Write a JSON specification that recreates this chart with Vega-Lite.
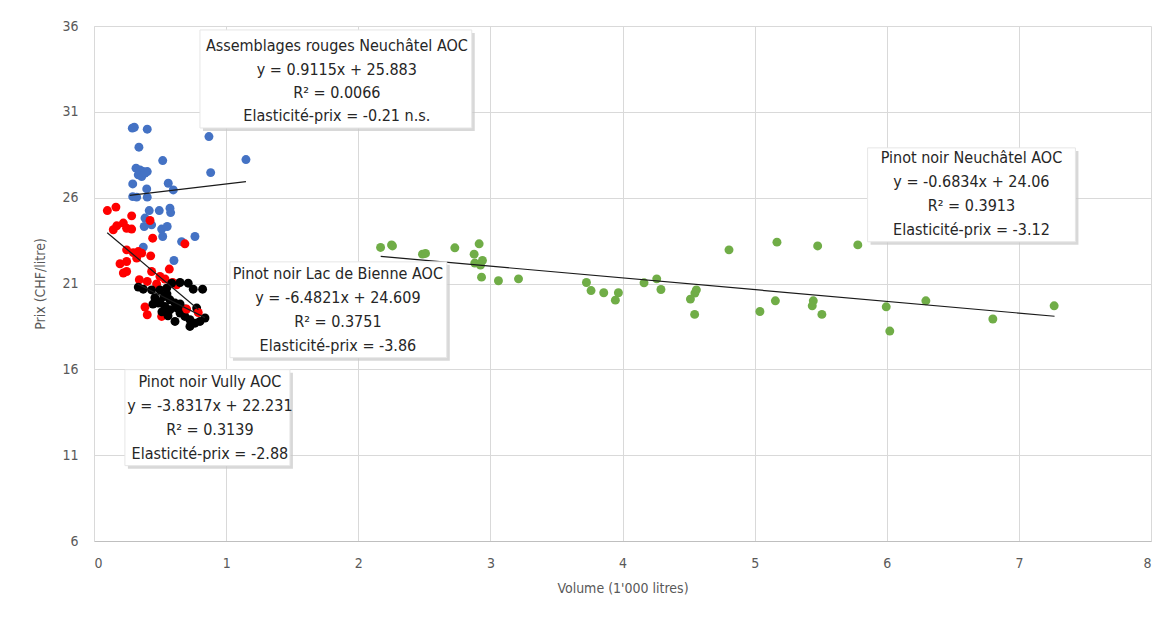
{
  "$schema": "https://vega.github.io/schema/vega-lite/v6.json",
  "autosize": "none",
  "width": 1057,
  "height": 515,
  "padding": {"left": 94, "top": 26, "right": 18, "bottom": 87},
  "background": "white",
  "config": {
    "view": {"stroke": null},
    "font": "Liberation Sans Narrow, DejaVu Sans Condensed, sans-serif"
  },
  "datasets": {
    "pts": [
      {"s": "Assemblages", "x": 0.290, "y": 30.05}, {"s": "Assemblages", "x": 0.305, "y": 30.10},
      {"s": "Assemblages", "x": 0.403, "y": 29.99}, {"s": "Assemblages", "x": 0.870, "y": 29.56},
      {"s": "Assemblages", "x": 0.340, "y": 28.94}, {"s": "Assemblages", "x": 0.520, "y": 28.16},
      {"s": "Assemblages", "x": 1.150, "y": 28.22}, {"s": "Assemblages", "x": 0.883, "y": 27.46},
      {"s": "Assemblages", "x": 0.318, "y": 27.72}, {"s": "Assemblages", "x": 0.348, "y": 27.62},
      {"s": "Assemblages", "x": 0.373, "y": 27.52}, {"s": "Assemblages", "x": 0.403, "y": 27.52},
      {"s": "Assemblages", "x": 0.335, "y": 27.33}, {"s": "Assemblages", "x": 0.361, "y": 27.23},
      {"s": "Assemblages", "x": 0.386, "y": 27.43}, {"s": "Assemblages", "x": 0.293, "y": 26.80},
      {"s": "Assemblages", "x": 0.399, "y": 26.51}, {"s": "Assemblages", "x": 0.562, "y": 26.84},
      {"s": "Assemblages", "x": 0.600, "y": 26.45}, {"s": "Assemblages", "x": 0.293, "y": 26.06},
      {"s": "Assemblages", "x": 0.323, "y": 26.03}, {"s": "Assemblages", "x": 0.403, "y": 26.03},
      {"s": "Assemblages", "x": 0.418, "y": 25.25}, {"s": "Assemblages", "x": 0.494, "y": 25.25},
      {"s": "Assemblages", "x": 0.575, "y": 25.39}, {"s": "Assemblages", "x": 0.580, "y": 25.13},
      {"s": "Assemblages", "x": 0.386, "y": 24.81}, {"s": "Assemblages", "x": 0.436, "y": 24.42},
      {"s": "Assemblages", "x": 0.512, "y": 24.17}, {"s": "Assemblages", "x": 0.554, "y": 24.32},
      {"s": "Assemblages", "x": 0.520, "y": 23.74}, {"s": "Assemblages", "x": 0.380, "y": 24.32},
      {"s": "Assemblages", "x": 0.663, "y": 23.44}, {"s": "Assemblages", "x": 0.764, "y": 23.74},
      {"s": "Assemblages", "x": 0.373, "y": 23.12}, {"s": "Assemblages", "x": 0.605, "y": 22.34},

      {"s": "Bienne", "x": 0.101, "y": 25.25}, {"s": "Bienne", "x": 0.166, "y": 25.45},
      {"s": "Bienne", "x": 0.285, "y": 24.94}, {"s": "Bienne", "x": 0.424, "y": 24.67},
      {"s": "Bienne", "x": 0.146, "y": 24.13}, {"s": "Bienne", "x": 0.172, "y": 24.36},
      {"s": "Bienne", "x": 0.222, "y": 24.52}, {"s": "Bienne", "x": 0.247, "y": 24.22},
      {"s": "Bienne", "x": 0.285, "y": 24.17}, {"s": "Bienne", "x": 0.444, "y": 23.64},
      {"s": "Bienne", "x": 0.688, "y": 23.31}, {"s": "Bienne", "x": 0.247, "y": 22.96},
      {"s": "Bienne", "x": 0.297, "y": 22.80}, {"s": "Bienne", "x": 0.335, "y": 22.86},
      {"s": "Bienne", "x": 0.361, "y": 22.77}, {"s": "Bienne", "x": 0.323, "y": 22.48},
      {"s": "Bienne", "x": 0.429, "y": 22.61}, {"s": "Bienne", "x": 0.197, "y": 22.15},
      {"s": "Bienne", "x": 0.247, "y": 22.28}, {"s": "Bienne", "x": 0.222, "y": 21.61},
      {"s": "Bienne", "x": 0.247, "y": 21.70}, {"s": "Bienne", "x": 0.436, "y": 21.70},
      {"s": "Bienne", "x": 0.570, "y": 21.84}, {"s": "Bienne", "x": 0.499, "y": 21.41},
      {"s": "Bienne", "x": 0.537, "y": 21.26}, {"s": "Bienne", "x": 0.343, "y": 21.22},
      {"s": "Bienne", "x": 0.403, "y": 21.12}, {"s": "Bienne", "x": 0.474, "y": 20.97},
      {"s": "Bienne", "x": 0.626, "y": 20.92}, {"s": "Bienne", "x": 0.595, "y": 21.06},
      {"s": "Bienne", "x": 0.386, "y": 19.63}, {"s": "Bienne", "x": 0.403, "y": 19.18},
      {"s": "Bienne", "x": 0.512, "y": 19.08},

      {"s": "Vully", "x": 0.335, "y": 20.79}, {"s": "Vully", "x": 0.373, "y": 20.67},
      {"s": "Vully", "x": 0.436, "y": 20.63}, {"s": "Vully", "x": 0.499, "y": 20.63},
      {"s": "Vully", "x": 0.550, "y": 20.73}, {"s": "Vully", "x": 0.588, "y": 21.02},
      {"s": "Vully", "x": 0.651, "y": 21.06}, {"s": "Vully", "x": 0.713, "y": 21.02},
      {"s": "Vully", "x": 0.751, "y": 20.67}, {"s": "Vully", "x": 0.822, "y": 20.67},
      {"s": "Vully", "x": 0.486, "y": 19.86}, {"s": "Vully", "x": 0.530, "y": 20.24},
      {"s": "Vully", "x": 0.575, "y": 20.05}, {"s": "Vully", "x": 0.613, "y": 19.86},
      {"s": "Vully", "x": 0.630, "y": 19.57}, {"s": "Vully", "x": 0.575, "y": 19.47},
      {"s": "Vully", "x": 0.537, "y": 19.66}, {"s": "Vully", "x": 0.651, "y": 19.28},
      {"s": "Vully", "x": 0.688, "y": 19.08}, {"s": "Vully", "x": 0.613, "y": 18.79},
      {"s": "Vully", "x": 0.726, "y": 18.89}, {"s": "Vully", "x": 0.802, "y": 18.79},
      {"s": "Vully", "x": 0.840, "y": 18.99}, {"s": "Vully", "x": 0.726, "y": 18.50},
      {"s": "Vully", "x": 0.764, "y": 18.69}, {"s": "Vully", "x": 0.777, "y": 19.57},
      {"s": "Vully", "x": 0.461, "y": 20.17}, {"s": "Vully", "x": 0.499, "y": 19.94},
      {"s": "Vully", "x": 0.552, "y": 20.40}, {"s": "Vully", "x": 0.446, "y": 19.80},
      {"s": "Vully", "x": 0.514, "y": 19.35}, {"s": "Vully", "x": 0.560, "y": 19.12},
      {"s": "Vully", "x": 0.651, "y": 19.81}, {"s": "Vully", "x": 0.688, "y": 19.52},

      {"s": "Bienne", "x": 0.701, "y": 19.51}, {"s": "Bienne", "x": 0.789, "y": 19.31},

      {"s": "Neuchatel", "x": 2.169, "y": 23.10}, {"s": "Neuchatel", "x": 2.252, "y": 23.25},
      {"s": "Neuchatel", "x": 2.259, "y": 23.19}, {"s": "Neuchatel", "x": 2.486, "y": 22.71},
      {"s": "Neuchatel", "x": 2.509, "y": 22.75}, {"s": "Neuchatel", "x": 2.731, "y": 23.08},
      {"s": "Neuchatel", "x": 2.915, "y": 23.31}, {"s": "Neuchatel", "x": 2.877, "y": 22.71},
      {"s": "Neuchatel", "x": 2.882, "y": 22.19}, {"s": "Neuchatel", "x": 2.940, "y": 22.34},
      {"s": "Neuchatel", "x": 2.925, "y": 22.07}, {"s": "Neuchatel", "x": 2.933, "y": 21.37},
      {"s": "Neuchatel", "x": 3.061, "y": 21.16}, {"s": "Neuchatel", "x": 3.213, "y": 21.27},
      {"s": "Neuchatel", "x": 3.727, "y": 21.06}, {"s": "Neuchatel", "x": 3.762, "y": 20.59},
      {"s": "Neuchatel", "x": 3.858, "y": 20.46}, {"s": "Neuchatel", "x": 3.969, "y": 20.46},
      {"s": "Neuchatel", "x": 3.946, "y": 20.03}, {"s": "Neuchatel", "x": 4.163, "y": 21.04},
      {"s": "Neuchatel", "x": 4.259, "y": 21.27}, {"s": "Neuchatel", "x": 4.291, "y": 20.65},
      {"s": "Neuchatel", "x": 4.559, "y": 20.63}, {"s": "Neuchatel", "x": 4.548, "y": 20.44},
      {"s": "Neuchatel", "x": 4.514, "y": 20.09}, {"s": "Neuchatel", "x": 4.546, "y": 19.20},
      {"s": "Neuchatel", "x": 4.806, "y": 22.96}, {"s": "Neuchatel", "x": 5.169, "y": 23.41},
      {"s": "Neuchatel", "x": 5.477, "y": 23.19}, {"s": "Neuchatel", "x": 5.781, "y": 23.25},
      {"s": "Neuchatel", "x": 5.040, "y": 19.37}, {"s": "Neuchatel", "x": 5.157, "y": 19.99},
      {"s": "Neuchatel", "x": 5.444, "y": 19.99}, {"s": "Neuchatel", "x": 5.436, "y": 19.70},
      {"s": "Neuchatel", "x": 5.509, "y": 19.20}, {"s": "Neuchatel", "x": 5.996, "y": 19.64},
      {"s": "Neuchatel", "x": 6.023, "y": 18.23}, {"s": "Neuchatel", "x": 6.296, "y": 19.99},
      {"s": "Neuchatel", "x": 6.803, "y": 18.93}, {"s": "Neuchatel", "x": 7.267, "y": 19.70}
    ],
    "trend": [
      {"s": "Assemblages", "x": 0.27, "y": 26.129}, {"s": "Assemblages", "x": 1.15, "y": 26.931},
      {"s": "Neuchatel", "x": 2.17, "y": 22.577}, {"s": "Neuchatel", "x": 7.27, "y": 19.092},
      {"s": "Bienne", "x": 0.10, "y": 23.961}, {"s": "Bienne", "x": 0.79, "y": 19.488},
      {"s": "Vully", "x": 0.33, "y": 20.967}, {"s": "Vully", "x": 0.84, "y": 19.012}
    ],
    "boxes": [
      {"b": "A", "x1": 0.802, "x2": 2.859, "y1": 35.77, "y2": 30.06},
      {"b": "N", "x1": 5.855, "x2": 7.428, "y1": 28.90, "y2": 23.43},
      {"b": "B", "x1": 1.029, "x2": 2.670, "y1": 22.26, "y2": 16.68},
      {"b": "V", "x1": 0.234, "x2": 1.483, "y1": 15.98, "y2": 10.39}
    ],
    "labels": [
      {"x": 1.838, "y": 34.84, "t": "Assemblages rouges Neuchâtel AOC"},
      {"x": 1.838, "y": 33.44, "t": "y = 0.9115x + 25.883"},
      {"x": 1.838, "y": 32.10, "t": "R² = 0.0066"},
      {"x": 1.838, "y": 30.76, "t": "Elasticité-prix = -0.21 n.s."},
      {"x": 6.641, "y": 28.32, "t": "Pinot noir Neuchâtel AOC"},
      {"x": 6.641, "y": 26.92, "t": "y = -0.6834x + 24.06"},
      {"x": 6.641, "y": 25.52, "t": "R² = 0.3913"},
      {"x": 6.641, "y": 24.13, "t": "Elasticité-prix = -3.12"},
      {"x": 1.846, "y": 21.56, "t": "Pinot noir Lac de Bienne AOC"},
      {"x": 1.846, "y": 20.17, "t": "y = -6.4821x + 24.609"},
      {"x": 1.846, "y": 18.77, "t": "R² = 0.3751"},
      {"x": 1.846, "y": 17.37, "t": "Elasticité-prix = -3.86"},
      {"x": 0.877, "y": 15.28, "t": "Pinot noir Vully AOC"},
      {"x": 0.877, "y": 13.88, "t": "y = -3.8317x + 22.231"},
      {"x": 0.877, "y": 12.48, "t": "R² = 0.3139"},
      {"x": 0.877, "y": 11.09, "t": "Elasticité-prix = -2.88"}
    ]
  },
  "layer": [
    {
      "data": {"name": "pts"},
      "mark": {"type": "circle", "size": 80, "opacity": 1},
      "encoding": {
        "x": {
          "field": "x", "type": "quantitative",
          "scale": {"domain": [0, 8], "nice": false},
          "axis": {
            "title": "Volume (1'000 litres)", "values": [0, 1, 2, 3, 4, 5, 6, 7, 8], "format": "d",
            "grid": true, "gridColor": "#d9d9d9", "ticks": false,
            "domainColor": "#bfbfbf", "labelColor": "#595959", "labelFontSize": 14,
            "labelPadding": 15, "titleColor": "#595959", "titleFontSize": 14,
            "titleFontWeight": "normal", "titlePadding": 11
          }
        },
        "y": {
          "field": "y", "type": "quantitative",
          "scale": {"domain": [6, 36], "nice": false, "zero": false},
          "axis": {
            "title": "Prix (CHF/litre)", "values": [6, 11, 16, 21, 26, 31, 36], "format": "d",
            "grid": true, "gridColor": "#d9d9d9", "ticks": false,
            "domainColor": "#d9d9d9", "labelColor": "#595959", "labelFontSize": 14,
            "labelPadding": 16, "titleColor": "#595959", "titleFontSize": 14,
            "titleFontWeight": "normal", "titlePadding": 14
          }
        },
        "color": {
          "field": "s", "type": "nominal",
          "scale": {"domain": ["Assemblages", "Bienne", "Vully", "Neuchatel"], "range": ["#4472C4", "#FF0000", "#000000", "#70AD47"]},
          "legend": null
        }
      }
    },
    {
      "data": {"name": "trend"},
      "mark": {"type": "line", "strokeWidth": 1.2},
      "encoding": {
        "x": {"field": "x", "type": "quantitative"},
        "y": {"field": "y", "type": "quantitative"},
        "detail": {"field": "s"},
        "stroke": {"value": "#1a1a1a"}
      }
    },
    {
      "data": {"name": "boxes"},
      "mark": {"type": "rect", "fill": "#c8c8c8", "opacity": 0.7, "xOffset": 3, "yOffset": 3, "x2Offset": 3, "y2Offset": 3},
      "encoding": {
        "x": {"field": "x1", "type": "quantitative"},
        "x2": {"field": "x2"},
        "y": {"field": "y1", "type": "quantitative"},
        "y2": {"field": "y2"}
      }
    },
    {
      "data": {"name": "boxes"},
      "mark": {"type": "rect", "fill": "white", "stroke": "#e6e6e6", "strokeWidth": 1},
      "encoding": {
        "x": {"field": "x1", "type": "quantitative"},
        "x2": {"field": "x2"},
        "y": {"field": "y1", "type": "quantitative"},
        "y2": {"field": "y2"}
      }
    },
    {
      "data": {"name": "labels"},
      "mark": {"type": "text", "fontSize": 16, "color": "#262626", "align": "center", "baseline": "middle"},
      "encoding": {
        "x": {"field": "x", "type": "quantitative"},
        "y": {"field": "y", "type": "quantitative"},
        "text": {"field": "t"}
      }
    }
  ]
}
